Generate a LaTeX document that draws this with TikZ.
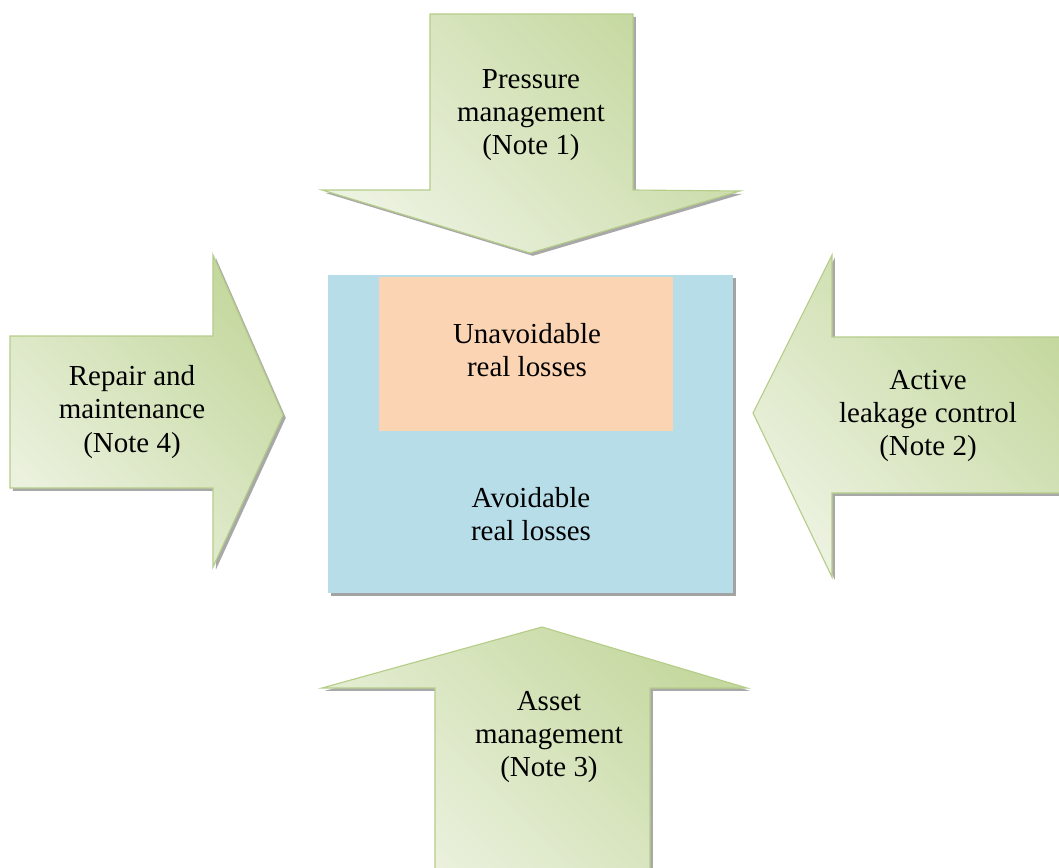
\documentclass[tikz,border=0pt]{standalone}
\usepackage{fontspec}
\setmainfont{Liberation Serif}
\usetikzlibrary{shadows}
\definecolor{arrowlight}{HTML}{ECF2E0}
\definecolor{arrowdark}{HTML}{C5D89F}
\definecolor{arrowline}{HTML}{B5CD89}
\definecolor{lossblue}{HTML}{B7DDE8}
\definecolor{lossorange}{HTML}{FBD4B4}

\begin{document}
\begin{tikzpicture}[x=0.025cm, y=-0.025cm,
    arrowshape/.style={draw=arrowline, line width=0.8pt, top color=arrowdark, bottom color=arrowlight, shading angle=-45,
        drop shadow={shadow xshift=2pt, shadow yshift=-2pt, fill=gray!75, opacity=0.9}},
    label/.style={align=center, font=\fontsize{20.6}{23.5}\selectfont}]
\useasboundingbox (0,0) rectangle (1059,868);

%losses
\fill[lossblue, drop shadow={shadow xshift=2pt, shadow yshift=-2pt, fill=gray!80, opacity=0.9}] (328,275) rectangle (733,593);
\fill[lossorange] (379,277) rectangle (673,431);
\node[label] (unavoidable) at (527,350) {Unavoidable\\real losses};
\node[label] (avoidable) at (531,514) {Avoidable\\real losses};

%top arrow
\draw[arrowshape] (430,14) -- (633,14) -- (633,190) -- (740,191) -- (530,253) -- (322,190) -- (430,190) -- cycle;
\node[label] (pressure) at (531,115) {Pressure\\management\\(Note 1)};

%left arrow
\draw[arrowshape] (10,336) -- (213,336) -- (213,255) -- (283,415) -- (213,567) -- (213,488) -- (10,488) -- cycle;
\node[label] (repair) at (132,412) {Repair and\\maintenance\\(Note 4)};

%right arrow
\draw[arrowshape] (1064,337) -- (832,337) -- (832,255) -- (753,413) -- (832,577) -- (832,493) -- (1064,493) -- cycle;
\node[label] (leakage) at (928,416) {Active\\leakage control\\(Note 2)};

%bottom arrow
\draw[arrowshape] (435,872) -- (435,688) -- (322,688) -- (542,627) -- (747,688) -- (650,688) -- (650,872) -- cycle;
\node[label] (asset) at (549,737) {Asset\\management\\(Note 3)};
\end{tikzpicture}
\end{document}
